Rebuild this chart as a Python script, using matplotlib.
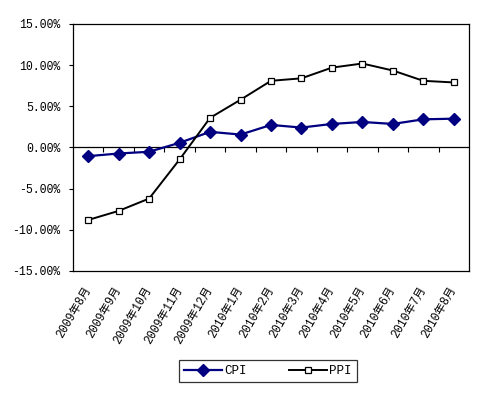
import matplotlib
matplotlib.use("Agg")
import matplotlib.pyplot as plt
from matplotlib.ticker import FuncFormatter

plt.rcParams['font.family'] = ['Liberation Mono', 'Noto Sans CJK SC', 'DejaVu Sans']

months = ["2009年8月", "2009年9月", "2009年10月", "2009年11月", "2009年12月",
          "2010年1月", "2010年2月", "2010年3月", "2010年4月", "2010年5月",
          "2010年6月", "2010年7月", "2010年8月"]
cpi = [-1.05, -0.73, -0.52, 0.57, 1.9, 1.57, 2.74, 2.42, 2.86, 3.1, 2.86, 3.42, 3.5]
ppi = [-8.8, -7.7, -6.2, -1.45, 3.6, 5.8, 8.1, 8.4, 9.7, 10.2, 9.35, 8.1, 7.9]
yticks = [-15, -10, -5, 0, 5, 10, 15]

fig = plt.figure(figsize=(4.88, 3.96), dpi=100)
ax = fig.add_axes([0.1496, 0.3157, 0.8114, 0.6237])
x = list(range(len(months)))

ax.plot(x, cpi, color='#000080', lw=1.6, marker='D', ms=6.5,
        mfc='#000080', mec='#000080', label='CPI', zorder=3)
ax.plot(x, ppi, color='black', lw=1.4, marker='s', ms=5,
        mfc='white', mec='black', mew=0.9, label='PPI', zorder=4)

ax.set_xlim(-0.5, len(months) - 0.5)
ax.set_ylim(-15, 15)
ax.set_yticks(yticks)
ax.yaxis.set_major_formatter(FuncFormatter(lambda v, p: f"{v:.2f}%"))
ax.tick_params(axis='y', direction='out', length=3, width=0.8, labelsize=8.3, pad=6)
ax.set_xticks(x)
ax.set_xticklabels(months, rotation=60, ha='right', va='center',
                   rotation_mode='anchor', fontsize=8.3)
ax.tick_params(axis='x', length=0, pad=12)

ax.axhline(0, color='black', lw=0.9, zorder=2)
ax.vlines([i + 0.5 for i in x[:-1]], -0.5, 0, color='black', lw=0.8, zorder=2)

for s in ax.spines.values():
    s.set_linewidth(0.9)
    s.set_color('black')

leg = fig.legend(loc='center', bbox_to_anchor=(0.549, 0.063), ncol=2,
                 frameon=True, fancybox=False, edgecolor='black',
                 fontsize=9, handlelength=3.0, columnspacing=3.4,
                 borderpad=0.4, handletextpad=0.2, borderaxespad=0)
leg.get_frame().set_linewidth(0.9)

fig.savefig("out.png", dpi=100, facecolor='white')
